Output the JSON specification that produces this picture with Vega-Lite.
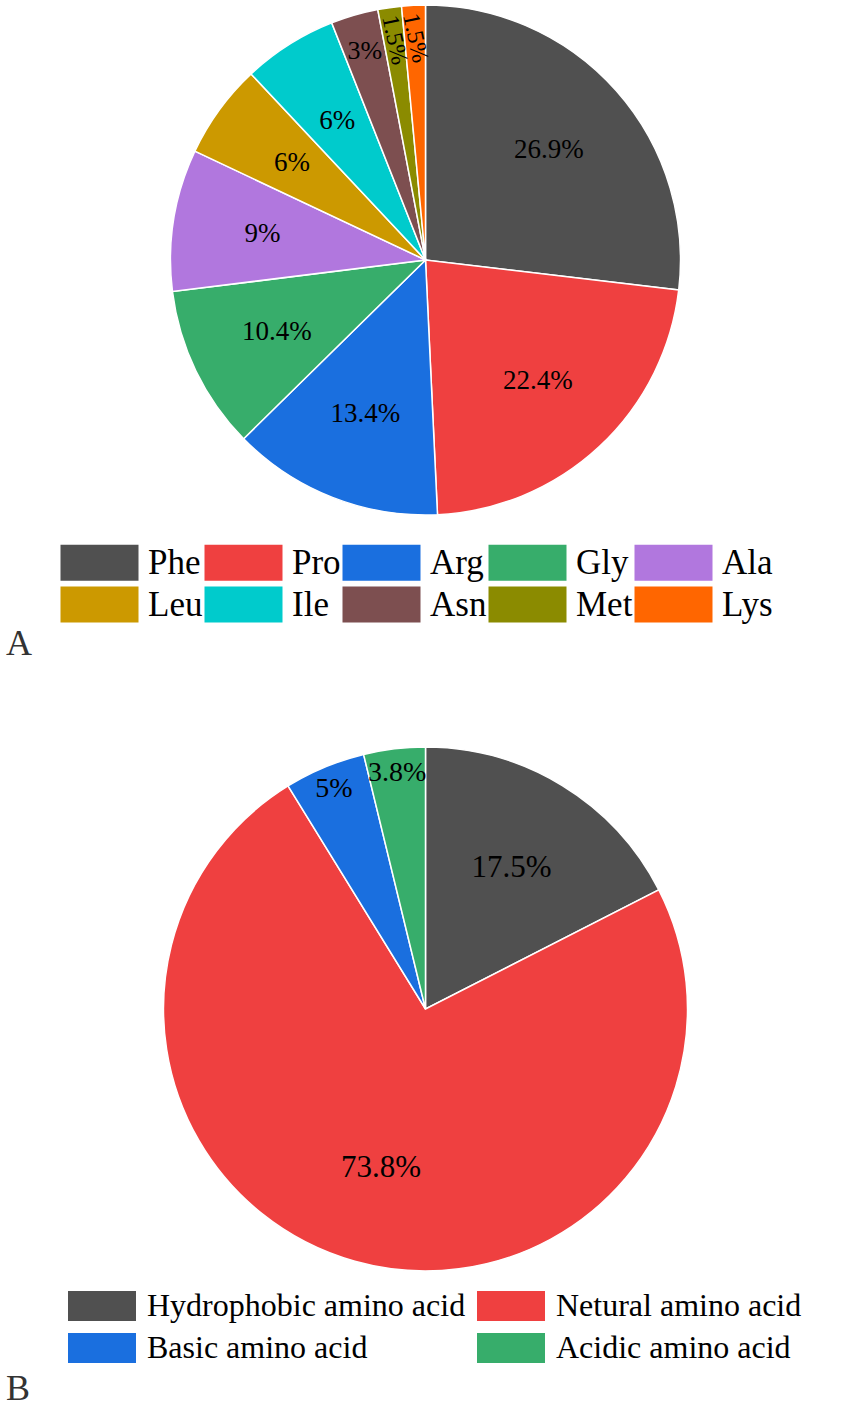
{
  "$schema": "https://vega.github.io/schema/vega-lite/v6.json",
  "padding": 0,
  "spacing": 82,
  "resolve": {
    "scale": {"color": "independent", "theta": "independent"},
    "legend": {"color": "independent"}
  },
  "config": {
    "font": "Liberation Serif",
    "view": {"stroke": null},
    "title": {"font": "Liberation Serif", "fontSize": 36, "fontWeight": "normal", "color": "#333"}
  },
  "datasets": {
    "residues": [
      {"name": "Phe", "pct": 26.9, "label": "26.9%", "idx": 1},
      {"name": "Pro", "pct": 22.4, "label": "22.4%", "idx": 2},
      {"name": "Arg", "pct": 13.4, "label": "13.4%", "idx": 3},
      {"name": "Gly", "pct": 10.4, "label": "10.4%", "idx": 4},
      {"name": "Ala", "pct": 9, "label": "9%", "idx": 5},
      {"name": "Leu", "pct": 6, "label": "6%", "idx": 6},
      {"name": "Ile", "pct": 6, "label": "6%", "idx": 7},
      {"name": "Asn", "pct": 3, "label": "3%", "idx": 8},
      {"name": "Met", "pct": 1.5, "label": "1.5%", "idx": 9},
      {"name": "Lys", "pct": 1.5, "label": "1.5%", "idx": 10}
    ],
    "classes": [
      {"name": "Hydrophobic amino acid", "pct": 17.5, "label": "17.5%", "idx": 1},
      {"name": "Netural amino acid", "pct": 73.8, "label": "73.8%", "idx": 2},
      {"name": "Basic amino acid", "pct": 5, "label": "5%", "idx": 3},
      {"name": "Acidic amino acid", "pct": 3.8, "label": "3.8%", "idx": 4}
    ]
  },
  "vconcat": [
    {
      "width": 851,
      "height": 520,
      "title": {"text": "A", "orient": "bottom", "anchor": "start", "offset": 4, "dx": 6},
      "data": {"name": "residues"},
      "encoding": {
        "theta": {"field": "pct", "type": "quantitative", "stack": true},
        "order": {"field": "idx", "type": "quantitative"}
      },
      "layer": [
        {
          "mark": {"type": "arc", "outerRadius": 255, "stroke": "white", "strokeWidth": 1.5},
          "encoding": {
            "color": {
              "field": "name",
              "type": "nominal",
              "scale": {
                "domain": ["Phe", "Pro", "Arg", "Gly", "Ala", "Leu", "Ile", "Asn", "Met", "Lys"],
                "range": ["#505050", "#EF4040", "#1A6FDF", "#37AD6B", "#B177DE", "#CC9900", "#00CBCC", "#7D4F50", "#8B8B00", "#FF6600"]
              },
              "legend": {
                "title": null,
                "orient": "none",
                "legendX": 80,
                "legendY": 543,
                "direction": "horizontal",
                "columns": 5,
                "symbolType": "M-2,-0.92H2V0.92H-2Z",
                "symbolSize": 1521,
                "symbolStrokeWidth": 0,
                "symbolOpacity": 1,
                "labelFont": "Liberation Serif",
                "labelFontSize": 35,
                "labelColor": "black",
                "labelOffset": 29,
                "rowPadding": 4,
                "columnPadding": 1
              }
            }
          }
        },
        {
          "mark": {"type": "text", "radius": 165, "font": "Liberation Serif", "fontSize": 27, "color": "black"},
          "encoding": {
            "text": {"condition": {"test": "datum.pct >= 5", "field": "label"}, "value": ""}
          }
        },
        {
          "mark": {"type": "text", "radius": 218, "font": "Liberation Serif", "fontSize": 26, "color": "black"},
          "encoding": {
            "text": {"condition": {"test": "datum.pct > 2 && datum.pct < 5", "field": "label"}, "value": ""}
          }
        },
        {
          "mark": {"type": "text", "radius": 222, "angle": 78, "font": "Liberation Serif", "fontSize": 24, "color": "black"},
          "encoding": {
            "text": {"condition": {"test": "datum.pct <= 2", "field": "label"}, "value": ""}
          }
        }
      ]
    },
    {
      "width": 851,
      "height": 530,
      "title": {"text": "B", "orient": "bottom", "anchor": "start", "offset": 8, "dx": 6},
      "data": {"name": "classes"},
      "encoding": {
        "theta": {"field": "pct", "type": "quantitative", "stack": true},
        "order": {"field": "idx", "type": "quantitative"}
      },
      "layer": [
        {
          "mark": {"type": "arc", "outerRadius": 262, "stroke": "white", "strokeWidth": 1.5},
          "encoding": {
            "color": {
              "field": "name",
              "type": "nominal",
              "scale": {
                "domain": ["Hydrophobic amino acid", "Netural amino acid", "Basic amino acid", "Acidic amino acid"],
                "range": ["#505050", "#EF4040", "#1A6FDF", "#37AD6B"]
              },
              "legend": {
                "title": null,
                "orient": "none",
                "legendX": 85,
                "legendY": 545,
                "direction": "horizontal",
                "columns": 2,
                "symbolType": "M-2,-0.88H2V0.88H-2Z",
                "symbolSize": 1156,
                "symbolStrokeWidth": 0,
                "symbolOpacity": 1,
                "labelFont": "Liberation Serif",
                "labelFontSize": 32,
                "labelColor": "black",
                "labelOffset": 28,
                "rowPadding": 9,
                "columnPadding": 11,
                "labelLimit": 400
              }
            }
          }
        },
        {
          "mark": {"type": "text", "radius": 165, "font": "Liberation Serif", "fontSize": 31, "color": "black"},
          "encoding": {
            "text": {"condition": {"test": "datum.pct >= 10", "field": "label"}, "value": ""}
          }
        },
        {
          "mark": {"type": "text", "radius": 238, "font": "Liberation Serif", "fontSize": 28, "color": "black"},
          "encoding": {
            "text": {"condition": {"test": "datum.pct < 10", "field": "label"}, "value": ""}
          }
        }
      ]
    }
  ]
}
